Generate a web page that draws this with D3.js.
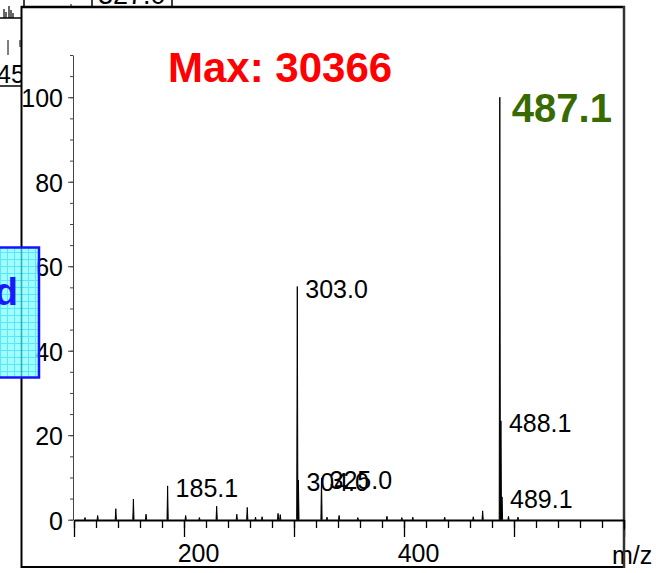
<!DOCTYPE html>
<html>
<head>
<meta charset="utf-8">
<script src="https://cdn.jsdelivr.net/npm/d3@7"></script>
<style>
  body { margin: 0; background: #fff; }
  text { font-family: "Liberation Sans", Arial, sans-serif; }
</style>
</head>
<body>
<div id="chart"></div>
<script>
// spectrum peaks (m/z, relative intensity %)
const peakMz = [110, 121.5, 138, 154, 165.5, 185.1, 201.5, 214, 229.7, 248, 257.5, 265, 271, 285.5, 287.5,
                303.0, 304.0, 325.0, 330, 341, 358, 384.5, 398, 408, 437, 463, 471.5,
                487.1, 488.1, 489.1, 495, 503.6];
const peakInt = [0.5, 1.0, 2.6, 4.9, 1.3, 8.0, 1.0, 0.5, 3.2, 1.3, 2.9, 0.6, 0.7, 1.5, 1.2,
                 55.2, 9.4, 9.9, 0.6, 1.0, 0.5, 0.8, 0.5, 0.6, 0.6, 0.7, 2.1,
                 100, 23.4, 5.4, 0.8, 0.6];
// labelled peaks
const labelMz = [185.1, 303.0, 304.0, 325.0, 488.1, 489.1];
const baseMz = 487.1;
const maxCount = 30366;
// axes
const xTicksMajor = [100, 200, 300, 400, 500, 600];
const xTickLabels = [200, 400];
const yTicksMajor = [0, 20, 40, 60, 80, 100];

const W = 656, H = 573;
const svg = d3.select('#chart').append('svg')
    .attr('width', W).attr('height', H);

// ---- fragments of neighbouring panels (behind) ----
const bg = svg.append('g');
bg.append('line').attr('x1', 0).attr('x2', 22).attr('y1', 18).attr('y2', 18)
    .attr('stroke', '#000').attr('stroke-width', 1.5);
[[4, 9], [6, 6], [9, 12], [11, 8], [13, 5]].forEach(p => {
    bg.append('line').attr('x1', p[0]).attr('x2', p[0]).attr('y1', 18).attr('y2', 18 - p[1])
        .attr('stroke', '#000').attr('stroke-width', 1.2);
});
bg.append('line').attr('x1', 8).attr('x2', 8).attr('y1', 40).attr('y2', 55).attr('stroke', '#000');
bg.append('line').attr('x1', 20).attr('x2', 20).attr('y1', 40).attr('y2', 47).attr('stroke', '#000');
bg.append('text').attr('x', -3).attr('y', 83).attr('font-size', 25).text('45');
bg.append('line').attr('x1', 0).attr('x2', 22).attr('y1', 86).attr('y2', 86)
    .attr('stroke', '#000').attr('stroke-width', 1.5);
bg.append('text').attr('x', 98).attr('y', 4).attr('font-size', 27).text('327.0');
[24, 92, 172].forEach(x => {
    bg.append('line').attr('x1', x).attr('x2', x).attr('y1', 0).attr('y2', 8)
        .attr('stroke', '#000').attr('stroke-width', 1.5);
});
bg.append('line').attr('x1', 71).attr('x2', 71).attr('y1', 4).attr('y2', 8).attr('stroke', '#000');

// ---- main panel ----
svg.append('rect').attr('x', 21).attr('y', 7).attr('width', 603).attr('height', 560)
    .attr('fill', '#fff');
svg.append('line').attr('x1', 21).attr('x2', 625).attr('y1', 7).attr('y2', 7)
    .attr('stroke', '#000').attr('stroke-width', 2.5);
svg.append('line').attr('x1', 21.5).attr('x2', 21.5).attr('y1', 6).attr('y2', 568)
    .attr('stroke', '#000').attr('stroke-width', 2);
svg.append('line').attr('x1', 21).attr('x2', 625).attr('y1', 567).attr('y2', 567)
    .attr('stroke', '#000').attr('stroke-width', 2);
svg.append('line').attr('x1', 624).attr('x2', 624).attr('y1', 6).attr('y2', 568)
    .attr('stroke', '#333').attr('stroke-width', 2.5);

const x = d3.scaleLinear().domain([100, 600]).range([74, 624]);
const y = d3.scaleLinear().domain([0, 110]).range([519.7, 55]);

// y axis: minor then major
svg.append('g').attr('transform', 'translate(73,0)')
    .call(d3.axisLeft(y).tickValues(d3.range(0, 111, 5)).tickSize(3).tickSizeOuter(0).tickFormat(''))
    .call(g => g.selectAll('line,path').attr('stroke', '#444'));
svg.append('g').attr('transform', 'translate(73,0)')
    .call(d3.axisLeft(y).tickValues(yTicksMajor).tickSize(5).tickSizeOuter(0).tickPadding(5))
    .call(g => g.select('.domain').remove())
    .call(g => g.selectAll('line').attr('stroke', '#444'))
    .call(g => g.selectAll('text').attr('font-size', 25).attr('fill', '#000')
        .attr('font-family', '"Liberation Sans", Arial, sans-serif').attr('dy', '0.38em'));

// x axis: minor then major
svg.append('g').attr('transform', 'translate(0,520)')
    .call(d3.axisBottom(x).tickValues(d3.range(100, 601, 20)).tickSize(8).tickSizeOuter(0).tickFormat(''))
    .call(g => g.selectAll('line').attr('stroke', '#000').attr('stroke-width', 1.3))
    .call(g => g.select('.domain').attr('stroke', '#000').attr('stroke-width', 2.2));
svg.append('g').attr('transform', 'translate(0,520)')
    .call(d3.axisBottom(x).tickValues(xTicksMajor).tickSize(17).tickSizeOuter(0)
        .tickFormat(d => xTickLabels.includes(d) ? d : ''))
    .call(g => g.select('.domain').remove())
    .call(g => g.selectAll('line').attr('stroke', '#000').attr('stroke-width', 1.3))
    .call(g => g.selectAll('text').attr('font-size', 25).attr('fill', '#000')
        .attr('font-family', '"Liberation Sans", Arial, sans-serif')
        .attr('y', 42).attr('dy', 0).attr('dx', 14));

svg.append('text').attr('x', 612).attr('y', 564).attr('font-size', 25).text('m/z');
// right border drawn again so it crosses the axis title
svg.append('line').attr('x1', 624).attr('x2', 624).attr('y1', 530).attr('y2', 568)
    .attr('stroke', '#333').attr('stroke-width', 2);

// peaks
const peaks = peakMz.map((m, i) => ({ mz: m, v: peakInt[i] }));
svg.append('g').selectAll('path').data(peaks).join('path')
    .attr('d', d => `M${x(d.mz) - 0.6},${y(0)}L${x(d.mz)},${y(d.v)}L${x(d.mz) + 0.6},${y(0)}`)
    .attr('fill', '#000').attr('stroke', '#000').attr('stroke-width', 1)
    .attr('stroke-linejoin', 'miter');

// peak labels
svg.append('g').selectAll('text').data(labelMz).join('text')
    .attr('x', m => x(m) + 8)
    .attr('y', m => y(peakInt[peakMz.indexOf(m)]) + 11)
    .attr('font-size', 25)
    .text(m => m.toFixed(1));

svg.append('text')
    .attr('x', x(baseMz) + 12).attr('y', y(100) + 25)
    .attr('font-size', 40).attr('font-weight', 'bold').attr('fill', '#386a00')
    .text(baseMz.toFixed(1));

svg.append('text').attr('x', 168).attr('y', 82)
    .attr('font-size', 42).attr('font-weight', 'bold').attr('fill', '#ff0000')
    .text('Max: ' + maxCount);

// cyan box fragment from neighbouring panel (in front)
const defs = svg.append('defs');
const pat = defs.append('pattern').attr('id', 'grid').attr('patternUnits', 'userSpaceOnUse')
    .attr('width', 7).attr('height', 7);
pat.append('rect').attr('width', 7).attr('height', 7).attr('fill', '#8affff');
pat.append('path').attr('d', 'M0,0.5H7M0.5,0V7').attr('stroke', '#30e0ff').attr('stroke-width', 1);
svg.append('rect').attr('x', -2).attr('y', 247.5).attr('width', 41).attr('height', 130)
    .attr('fill', 'url(#grid)').attr('fill-opacity', 0.8)
    .attr('stroke', '#1414ff').attr('stroke-width', 2.5);
svg.append('text').attr('x', 18).attr('y', 305).attr('text-anchor', 'end')
    .attr('font-size', 38).attr('font-weight', 'bold').attr('fill', '#1a1aff').text('d');
</script>
</body>
</html>
